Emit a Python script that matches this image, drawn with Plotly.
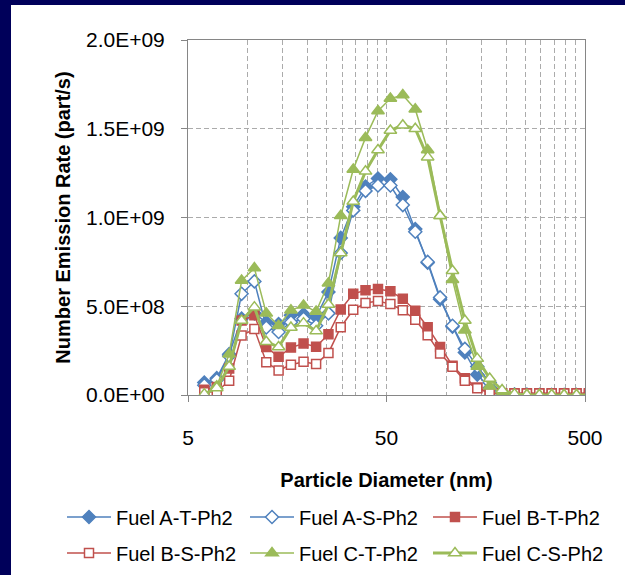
import plotly.graph_objects as go

# ---------------- data ----------------
diameter_nm = [6.04, 6.98, 8.06, 9.31, 10.8, 12.4, 14.3, 16.5, 19.1, 22.1, 25.5, 29.4,
               34.0, 39.2, 45.3, 52.3, 60.4, 69.8, 80.6, 93.1, 107.5, 124.1, 143.3,
               165.5, 191.1, 220.7, 254.8, 294.3, 339.8, 392.4, 453.2, 523.3]

fuel_a_t = [0.70, 0.95, 2.30, 4.30, 4.60, 4.10, 4.00, 4.50, 4.55, 4.40, 5.80, 8.85,
            10.6, 11.75, 12.2, 12.15, 11.15, 9.35, 7.45, 5.40, 3.85, 2.40, 1.15,
            0.40, 0.08, 0.02, 0.01, 0.0, 0.0, 0.0, 0.0, 0.0]
fuel_a_s = [0.55, 0.85, 2.20, 5.70, 6.40, 3.80, 3.55, 4.10, 4.30, 3.90, 4.60, 8.00,
            10.4, 11.5, 11.8, 11.8, 10.7, 9.20, 7.50, 5.50, 3.90, 2.60, 1.60,
            0.70, 0.15, 0.03, 0.01, 0.0, 0.0, 0.0, 0.0, 0.0]
fuel_b_t = [0.30, 0.45, 1.50, 4.20, 4.50, 2.70, 2.15, 2.67, 2.90, 2.72, 3.42, 4.82,
            5.70, 5.90, 5.97, 5.85, 5.42, 4.75, 3.82, 2.71, 1.65, 0.95, 0.42,
            0.12, 0.10, 0.10, 0.10, 0.10, 0.10, 0.10, 0.10, 0.10]
fuel_b_s = [0.15, 0.20, 0.80, 3.35, 3.72, 1.85, 1.38, 1.70, 1.87, 1.74, 2.37, 3.82,
            4.80, 5.18, 5.30, 5.12, 4.77, 4.24, 3.37, 2.34, 1.59, 0.80, 0.38,
            0.10, 0.08, 0.08, 0.08, 0.08, 0.08, 0.08, 0.08, 0.08]
fuel_c_t = [0.00, 0.50, 2.30, 6.45, 7.15, 4.60, 3.90, 4.77, 5.05, 4.70, 6.30, 10.1,
            12.7, 14.5, 16.0, 16.7, 16.9, 16.1, 13.8, 10.1, 6.50, 3.65, 1.60,
            0.50, 0.10, 0.0, 0.0, 0.0, 0.0, 0.0, 0.0, 0.0]
fuel_c_s = [0.05, 0.40, 1.60, 4.20, 4.95, 3.00, 2.70, 3.80, 4.05, 3.60, 5.10, 8.00,
            10.9, 12.6, 13.8, 14.9, 15.2, 15.0, 13.4, 10.1, 7.00, 4.20, 2.05,
            0.93, 0.28, 0.05, 0.0, 0.0, 0.0, 0.0, 0.0, 0.0]
value_scale = 1e8  # values above are in units of 1E+08 part/s

series_names = ["Fuel A-T-Ph2", "Fuel A-S-Ph2", "Fuel B-T-Ph2",
                "Fuel B-S-Ph2", "Fuel C-T-Ph2", "Fuel C-S-Ph2"]

y_tickvals = [0, 5e8, 1e9, 1.5e9, 2e9]
y_ticktext = ["0.0E+00", "5.0E+08", "1.0E+09", "1.5E+09", "2.0E+09"]
x_tickvals = [5, 50, 500]
x_ticktext = ["5", "50", "500"]
x_minor_grid = [10, 15, 20, 25, 30, 35, 40, 45, 100, 150, 200, 250, 300, 350, 400, 450]

# ---------------- styles ----------------
BLUE = "#4F81BD"
RED = "#C0504D"
GREEN = "#9BBB59"
NAVY = "#00005A"
FONT = "Liberation Sans"

styles = [
    dict(color=BLUE, symbol="diamond", filled=True, size=10, width=1.5, legend="legend"),
    dict(color=BLUE, symbol="diamond", filled=False, size=10, width=1.5, legend="legend"),
    dict(color=RED, symbol="square", filled=True, size=9, width=1.5, legend="legend"),
    dict(color=RED, symbol="square", filled=False, size=9, width=1.5, legend="legend2"),
    dict(color=GREEN, symbol="triangle-up", filled=True, size=11, width=1.5, legend="legend2"),
    dict(color=GREEN, symbol="triangle-up", filled=False, size=11, width=3, legend="legend2"),
]
all_series = [fuel_a_t, fuel_a_s, fuel_b_t, fuel_b_s, fuel_c_t, fuel_c_s]

fig = go.Figure()
for name, vals, st in zip(series_names, all_series, styles):
    fig.add_trace(go.Scatter(
        x=diameter_nm,
        y=[v * value_scale for v in vals],
        mode="lines+markers",
        name=name,
        legend=st["legend"],
        line=dict(color=st["color"], width=st["width"]),
        marker=dict(symbol=st["symbol"], size=st["size"],
                    color=st["color"] if st["filled"] else "white",
                    line=dict(color=st["color"], width=1.5)),
    ))

L, R, T, B = 188, 40, 40, 180
W, H = 625, 575
pw, ph = W - L - R, H - T - B

def px_x(p):
    return (p - L) / pw

def px_y(p):
    return (H - B - p) / ph

GRID = "#ABABAB"
AXIS = "#868686"

legend_common = dict(orientation="h", xanchor="left", yanchor="middle",
                     entrywidth=124, entrywidthmode="pixels", itemwidth=44,
                     font=dict(size=20), bgcolor="rgba(0,0,0,0)", traceorder="normal")

fig.update_layout(
    width=W, height=H,
    margin=dict(l=L, r=R, t=T, b=B, pad=0, autoexpand=False),
    paper_bgcolor=NAVY,
    plot_bgcolor="white",
    font=dict(family=FONT, size=20, color="black"),
    shapes=[dict(type="rect", xref="paper", yref="paper",
                 x0=px_x(11), x1=px_x(640), y0=px_y(590), y1=px_y(5),
                 fillcolor="white", line=dict(width=0), layer="below")],
    xaxis=dict(
        type="log", range=[0.69897, 2.69897], automargin=False,
        tickmode="array", tickvals=x_tickvals, ticktext=x_ticktext,
        ticks="outside", ticklen=6, tickcolor=AXIS, tickfont=dict(size=21),
        ticklabelstandoff=18,
        showline=True, linecolor=AXIS, linewidth=1, mirror=True,
        showgrid=True, gridcolor=GRID, griddash="5px,3px", gridwidth=1,
        minor=dict(tickmode="array", tickvals=x_minor_grid, showgrid=True,
                   gridcolor=GRID, griddash="5px,3px", gridwidth=1, ticks=""),
        zeroline=False,
        title=dict(text="<b>Particle Diameter (nm)</b>", font=dict(size=20), standoff=24),
    ),
    yaxis=dict(
        range=[0, 2e9], automargin=False,
        tickmode="array", tickvals=y_tickvals, ticktext=y_ticktext,
        ticks="outside", ticklen=6, tickcolor=AXIS, tickfont=dict(size=21),
        ticklabelstandoff=12,
        showline=True, linecolor=AXIS, linewidth=1, mirror=True,
        showgrid=True, gridcolor=GRID, griddash="5px,3px", gridwidth=1,
        zeroline=False,
        title=dict(text="<b>Number Emission Rate (part/s)</b>", font=dict(size=20), standoff=9),
    ),
    legend=dict(x=px_x(62), y=px_y(517), **legend_common),
    legend2=dict(x=px_x(62), y=px_y(553), **legend_common),
)

fig.write_html("out.html")
